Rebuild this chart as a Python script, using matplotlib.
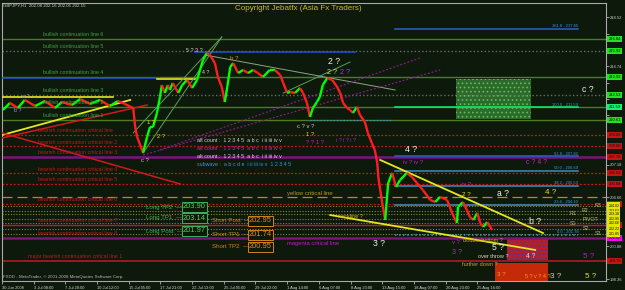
import numpy as np
import matplotlib.pyplot as plt
from matplotlib.collections import LineCollection
from matplotlib.patches import Rectangle

plt.rcParams['font.family'] = ['Liberation Sans', 'DejaVu Sans']
plt.rcParams['hatch.linewidth'] = 0.7

# ---- GBPJPY H1, pivots of the price path (bar number, price) ----
bar_idx = [2, 16, 32, 46, 67, 87, 107, 121, 141, 158,
           178, 198, 218, 234, 248, 265, 269, 273, 285, 293,
           299, 305, 313, 319, 323, 329, 335, 339, 345, 356,
           364, 374, 384, 394, 400, 406, 414, 420, 430, 436,
           444, 450, 455, 461, 467, 477, 487, 497, 507, 517,
           527, 541, 551, 562, 568, 576, 582, 592, 602, 608,
           616, 622, 628, 636, 642, 648, 657, 667, 677, 683,
           689, 697, 703, 709, 717, 723, 733, 739, 747, 753,
           758, 760, 764, 768, 774, 780, 788, 796, 804, 818,
           828, 838, 850, 865, 875, 885, 899, 909, 919, 921,
           931, 939, 945, 952, 960, 966, 972, 980, 990]
close_px = [211.38, 211.92, 211.53, 212.15, 211.68, 212.07, 211.53, 211.99, 211.76, 212.22,
            211.84, 212.15, 211.68, 212.07, 211.84, 211.53, 210.07, 209.30, 208.08, 209.30,
            210.07, 210.07, 211.15, 212.38, 213.30, 212.69, 213.30, 212.92, 213.45, 212.69,
            213.30, 213.69, 213.07, 213.69, 214.46, 215.23, 215.77, 215.61, 214.99, 213.92,
            213.15, 211.99, 213.15, 214.69, 214.99, 214.22, 214.46, 214.22, 214.46, 214.22,
            213.92, 214.46, 214.46, 214.07, 213.46, 212.69, 212.76, 212.69, 213.07, 212.69,
            211.92, 210.84, 211.53, 211.99, 212.38, 213.30, 213.84, 213.69, 213.15, 212.69,
            211.92, 211.53, 211.38, 211.15, 211.61, 210.99, 210.45, 209.61, 208.83, 208.30,
            207.30, 206.22, 205.22, 204.22, 202.91, 205.76, 206.53, 205.45, 205.99, 206.53,
            206.22, 205.76, 205.22, 204.45, 204.29, 204.68, 204.45, 203.45, 202.68, 203.91,
            204.29, 203.68, 203.14, 202.91, 203.45, 202.68, 202.37, 202.75, 202.14]

time_ticks = list(range(0, 961, 64))
time_labels = ["30 Jun 2008", "3 Jul 08:00", "7 Jul 20:00", "10 Jul 12:00", "15 Jul 05:00",
               "17 Jul 21:00", "22 Jul 13:00", "25 Jul 05:00", "29 Jul 22:00", "1 Aug 14:00",
               "6 Aug 07:00", "8 Aug 23:00", "13 Aug 15:00", "18 Aug 07:00", "20 Aug 23:00",
               "25 Aug 16:00"]
price_ticks = [198.36, 199.62, 200.88, 202.14, 203.40, 204.66, 205.92, 207.18, 208.44,
               209.70, 210.96, 212.22, 213.48, 214.74, 216.00, 217.26, 218.52]

bull_names = ["bullish continuation line 6", "bullish continuation line 5",
              "bullish continuation line 4", "bullish continuation line 3",
              "bullish continuation line 2", "bullish continuation line 1"]
bull_levels = [216.84, 215.92, 213.92, 212.53, 211.61, 210.61]
bear_names = ["bearish continuation critical line", "bearish continuation critical line 2",
              "bearish continuation critical line 3", "bearish continuation critical line 4",
              "bearish continuation critical line 5", "bearish continuation critical line 6",
              "bearish continuation critical line 7", "bearish continuation critical line 8"]
bear_levels = [209.45, 208.60, 207.76, 206.52, 205.68, 204.14, 202.52, 201.52]
major_level = 199.75
yellow_level = 204.68

fib_names = ["161.8", "100.0", "61.8", "50.0", "38.2", "23.6", "0.0"]
fib_prices = [217.65, 211.59, 207.82, 206.69, 205.53, 204.10, 201.78]
fib_span = [794, 1164]

pivot_names = ["R3", "R2", "R1", "PIVOT", "S1", "S2", "S3"]
pivot_prices = [204.02, 203.62, 203.38, 202.95, 202.66, 202.22, 201.85]

long_names = ["Long TP2", "Long TP1", "Long Post"]
long_vals = [203.90, 203.14, 201.97]
short_names = ["Short Post", "Short TP1", "Short TP2"]
short_vals = [202.95, 201.74, 200.95]

# trend lines: (bar0, price0, bar1, price1)
yellow_tl = [(0, 209.45, 259, 212.15), (764, 207.53, 1093, 201.90), (663, 203.29, 1077, 200.60)]
red_tl = [(0, 209.22, 293, 211.76), (0, 209.61, 360, 205.68)]
green_tl = [(285, 208.07, 444, 217.00), (265, 209.61, 444, 217.00), (568, 212.68, 703, 215.07)]
gray_tl = [(410, 215.61, 794, 212.92)]
magenta_tl = [(285, 207.91, 885, 214.46), (319, 208.30, 844, 215.38)]
blue_seg = [(0, 213.84, 319), (390, 215.84, 713)]
yellow_seg = [(0, 212.38, 224), (313, 213.76, 390)]

green_zone = (917, 1069, 210.68, 213.76)
red_zone = (1020, 1103, 199.83, 201.44)
red_block = (996, 1103, 198.21, 199.60)

BG = '#0d190b'
W, H = 625, 290
fig = plt.figure(figsize=(W / 100, H / 100), dpi=100, facecolor=BG)
ax = fig.add_axes([2 / W, 1 - 281 / H, 604 / W, 278 / H], facecolor=BG)
ax.set_xlim(0, 1220)
ax.set_ylim(198.21, 219.615)
for s in ax.spines.values():
    s.set_color('#a8a8a8')
    s.set_linewidth(0.8)

# zones
g = green_zone
ax.add_patch(Rectangle((g[0], g[2]), g[1] - g[0], g[3] - g[2], facecolor='#2c6a2c',
                       edgecolor='#66b85a', hatch='....', lw=0, zorder=1))
r = red_zone
ax.add_patch(Rectangle((r[0], r[2]), r[1] - r[0], r[3] - r[2], facecolor='#b3202a',
                       edgecolor='#3a3aa8', hatch='....', lw=0, zorder=1))
r = red_block
ax.add_patch(Rectangle((r[0], r[2]), r[1] - r[0], r[3] - r[2], facecolor='#c42a08',
                       lw=0, zorder=1))

# horizontal levels
bull_style = ['-', ':', '-', ':', '-', '-']
for p, st in zip(bull_levels, bull_style):
    ax.axhline(p, color='#4e7d1c' if st == '-' else '#6a6a6a', ls=st, lw=1, zorder=2)
for i, p in enumerate(bear_levels):
    if i in (2, 7):
        ax.axhline(p, color='#7a167a', lw=1.8, zorder=2)
    elif i == 6:
        ax.axhline(p, color='#c8142a', lw=1, zorder=2)
    else:
        ax.axhline(p, color='#d41414', ls=(0, (1.5, 1.5)), lw=0.9, zorder=2)
ax.axhline(major_level, color='#c8142a', lw=1.1, zorder=2)
ax.axhline(yellow_level, color='#a8902a', ls=(0, (8, 4)), lw=0.9, zorder=2)
for p in pivot_prices:
    ax.axhline(p, color='#85853a', ls=(0, (1, 1.5)), lw=0.8, zorder=2)

for b0, p, b1 in blue_seg:
    ax.plot([b0, b1], [p, p], color='#2450d8', lw=1.1, zorder=3)
for b0, p, b1 in yellow_seg:
    ax.plot([b0, b1], [p, p], color='#e8e820', lw=1.2, zorder=3)
ax.plot([622, 790], [bull_levels[5], bull_levels[5]], color='#3090ff', ls=':', lw=0.9, zorder=3)

# fibonacci
fib_cols = ['#2860d0', '#10f070', '#2f5fd0', '#3a8ec0', '#3a8ec0', '#3a8ec0', '#2aa0e0']
for n, p, c in zip(fib_names, fib_prices, fib_cols):
    ax.plot(fib_span, [p, p], color=c, lw=1.1, ls=':' if n == '0.0' else '-', zorder=3)
    ax.text(fib_span[1], p + 0.05, f"{n} - {p:.2f}", ha='right', va='bottom',
            fontsize=3, color='#3c9ad6', zorder=6)

# trend lines
for b0, p0, b1, p1 in yellow_tl:
    ax.plot([b0, b1], [p0, p1], color='#e6e61e', lw=1.3, zorder=4)
for b0, p0, b1, p1 in red_tl:
    ax.plot([b0, b1], [p0, p1], color='#d01a1a', lw=1.1, zorder=4)
for b0, p0, b1, p1 in green_tl:
    ax.plot([b0, b1], [p0, p1], color='#5aa05a', lw=0.7, zorder=4)
for b0, p0, b1, p1 in gray_tl:
    ax.plot([b0, b1], [p0, p1], color='#8aa880', lw=0.7, zorder=4)
for b0, p0, b1, p1 in magenta_tl:
    ax.plot([b0, b1], [p0, p1], color='#8a1a8a', lw=0.9, ls=(0, (1.5, 1.5)), zorder=4)

# price path
pts = np.column_stack([bar_idx, close_px])
segs = np.stack([pts[:-1], pts[1:]], axis=1)
cols = np.where(np.diff(close_px) >= 0, '#00ff00', '#ff1e1e')
ax.add_collection(LineCollection(segs, colors=cols, linewidths=1.7, zorder=5))

# coloured price boxes on the right axis
box_levels = bull_levels + [fib_prices[1]] + bear_levels + pivot_prices + [major_level]

# axes ticks (plain ticks hidden where a coloured box sits)
ax.set_xticks(time_ticks)
ax.set_xticklabels(time_labels, ha='left')
ax.tick_params(axis='x', colors='#b0b0b0', labelcolor='#d8d8d8', labelsize=2.9,
               length=2, width=0.6, pad=1.5)
ax.yaxis.tick_right()
ax.set_yticks(price_ticks)
ax.set_yticklabels([f"{p:.2f}" if min(abs(p - b) for b in box_levels) > 0.45 else ""
                    for p in price_ticks])
ax.tick_params(axis='y', colors='#b0b0b0', labelcolor='#d0d0d0', labelsize=3,
               length=2, width=0.6, pad=1)


def price_box(p, fc, fs=3):
    ax.text(1.004, p, f"{p:.2f}", transform=ax.get_yaxis_transform(), fontsize=fs,
            color='#101010', va='center', ha='left', clip_on=False, zorder=8,
            bbox=dict(boxstyle='square,pad=0.3', fc=fc, ec='none'))


for p in bull_levels:
    price_box(p, '#22e022')
price_box(fib_prices[1], '#18f070')
for i, p in enumerate(bear_levels):
    price_box(p, '#ff00ff' if i == 7 else '#c41414')
for p in pivot_prices:
    price_box(p, '#e4e400', 2.6)
price_box(major_level, '#c41414')

# level names
for n, p in zip(bull_names, bull_levels):
    ax.text(83, p + 0.12, n, fontsize=3.8, color='#46a046', va='bottom', zorder=6)
for n, p in zip(bear_names, bear_levels):
    ax.text(72, p + 0.12, n, fontsize=3.8, color='#c81818', va='bottom', zorder=6)
ax.text(53, major_level + 0.12, "major bearish continuation critical line 1", fontsize=3.8,
        color='#c81818', va='bottom', zorder=6)
for i, (n, p) in enumerate(zip(pivot_names, pivot_prices)):
    ax.text([1210, 1185, 1160, 1205, 1160, 1185, 1210][i], p, n, fontsize=3.8,
            color='#b8b870', ha='right', va='center', zorder=6)


def note(s, x, y, c, fs=4.0, **kw):
    fig.text(x / W, 1 - y / H, s, color=c, fontsize=fs, va='center', ha='left', zorder=10, **kw)


note("GBPJPY,H1  202.08 202.16 202.05 202.15", 3, 6, '#d0d0d0', 3.2)
note("Copyright Jebatfx (Asia Fx Traders)", 235, 8, '#cdb82c', 5.8)
note("FXDD - MetaTrader, \u00a9 2001-2008 MetaQuotes Software Corp.", 3, 277, '#b8b8b8', 3.2)

note("alt count :  1 2 3 4 5  a b c  i ii iii iv v", 197, 141, '#d8d8d8', 3.8)
note("alt count :  1 2 3 4 5  a b c  i ii iii iv v", 197, 149, '#d020d0', 3.8)
note("alt count :  1 2 3 4 5  a b c  i ii iii iv v", 197, 157, '#d8d8d8', 3.8)
note("subwave :  a b c d e  i ii iii iv v  1 2 3 4 5", 197, 165, '#2e9cf0', 3.8)
note("yellow critical line", 287, 193, '#b4a028', 4.2)
note("magenta critical line", 287, 243, '#c818c8', 4.2)
note("neckline ?", 338, 217, '#d8b020', 4.0)
note("double bottom ?", 463, 240, '#d0a020', 4.0)
note("over throw ?", 478, 256, '#e0d8c0', 4.0)
note("further down ?", 462, 265, '#d0a020', 4.0)

for s, x, y, c, fs in [("2 ?", 328, 62, '#f0f0f0', 6.2), ("4 ?", 405, 150, '#f0f0f0', 6.2),
                       ("3 ?", 373, 244, '#f0f0f0', 6.2), ("5 ?", 492, 248, '#f0f0f0', 6.2),
                       ("a ?", 497, 193, '#f0f0f0', 6.2), ("b ?", 529, 221, '#f0f0f0', 6.2),
                       ("c ?", 582, 90, '#f0f0f0', 6.2), ("2 ?", 327, 72, '#e0e020', 5.2),
                       ("2 ?", 340, 72, '#d020d0', 5.2), ("4 ?", 545, 193, '#e0e020', 5.8),
                       ("5 ?", 583, 256, '#b020c0', 5.8), ("5 ?", 585, 276, '#e0e020', 5.8),
                       ("3 ?", 550, 276, '#e0e020', 5.8), ("4 ?", 526, 256, '#e8e0c8', 4.8),
                       ("3 ?", 452, 252, '#c020c0', 5.2), ("v ?", 452, 243, '#c020c0', 4.2),
                       ("3 ?", 497, 275, '#f0a020', 4.4), ("5 ? v ? 4 ?", 525, 277, '#f0a020', 4.0),
                       ("c ? 4 ?", 526, 163, '#c020c0', 5.0), ("iv ? iv ?", 403, 162, '#c020c0', 4.2),
                       ("iv ?", 462, 185, '#c020c0', 4.2), ("2 ?", 462, 194, '#e0e020', 4.6),
                       ("b ?", 230, 58, '#e09030', 4.4), ("5 ? 3 ?", 186, 50, '#d0d0d0', 4.0),
                       ("1 ?", 147, 122, '#e0e020', 4.2), ("2 ?", 157, 137, '#e0e020', 4.2),
                       ("c ?", 141, 160, '#d0d0d0', 4.2), ("c ? v ?", 297, 126, '#d0d0d0', 4.2),
                       ("1 ?", 306, 135, '#e0e020', 4.2), ("? ? 1 ?", 306, 143, '#c020c0', 4.2),
                       ("i ? i ? i ?", 336, 140, '#c020c0', 3.8), ("a ?", 22, 96, '#60a0e0', 3.8),
                       ("4 ?", 202, 72, '#d0d0d0', 3.8), ("b ?", 14, 110, '#70b0e0', 3.8)]:
    note(s, x, y, c, fs)

# long / short boxes
for i, (n, v) in enumerate(zip(long_names, long_vals)):
    y = [207, 218, 231][i]
    note(n + "  \u2014", 146, y, '#3cb35a', 4.4)
    note(f"{v:.2f}", 183, y, '#48d848', 5.4,
         bbox=dict(boxstyle='square,pad=0.15', fc=BG, ec='#3cb35a', lw=0.7))
for i, (n, v) in enumerate(zip(short_names, short_vals)):
    y = [221, 235, 247][i]
    note(n + "  \u2014", 212, y, '#d2821e', 4.4)
    note(f"{v:.2f}", 249, y, '#e08a22', 5.4,
         bbox=dict(boxstyle='square,pad=0.15', fc=BG, ec='#d2821e', lw=0.7))

fig.savefig("out.png", dpi=100, facecolor=BG)
